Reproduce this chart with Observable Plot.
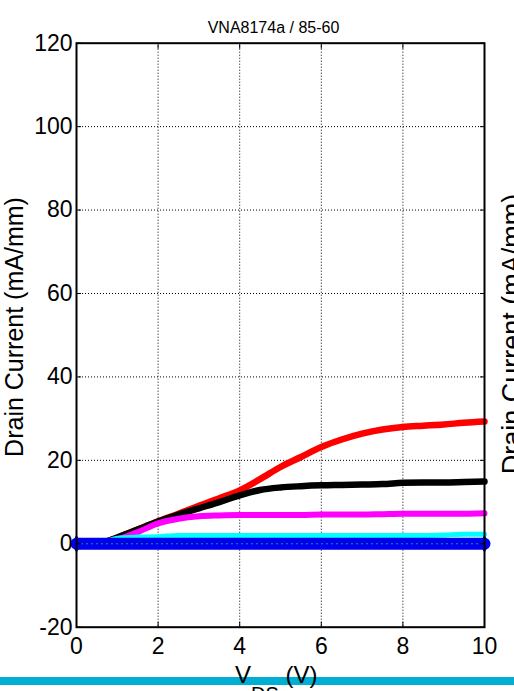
<!DOCTYPE html>
<html>
<head>
<meta charset="utf-8">
<script src="https://cdn.jsdelivr.net/npm/d3@7"></script>
<script src="https://cdn.jsdelivr.net/npm/@observablehq/plot@0.6"></script>
<style>
  html, body { margin: 0; padding: 0; background: white; }
  svg { display: block; }
</style>
</head>
<body>
<div id="chart"></div>
<script>
const title = "VNA8174a / 85-60";
const yLabel = "Drain Current (mA/mm)";
const xTicks = [0, 2, 4, 6, 8, 10];
const yTicks = [-20, 0, 20, 40, 60, 80, 100, 120];
const xGrid = [2, 4, 6, 8];
const yGrid = [0, 20, 40, 60, 80, 100];

const vds     = [0, 0.5, 0.7, 1.0, 1.5, 2.0, 2.5, 3.0, 3.5, 4.0, 4.5, 5.0, 5.5, 6.0, 6.5, 7.0, 7.5, 8.0, 8.5, 9.0, 9.5, 10];
const red     = [0, 0, 0.4, 1.5, 3.4, 5.4, 7.2, 9.1, 10.9, 12.8, 15.5, 18.4, 20.8, 23.2, 25.0, 26.4, 27.4, 28.0, 28.3, 28.6, 29.0, 29.3];
const black   = [0, 0, 0.4, 1.5, 3.4, 5.3, 7.0, 8.5, 10.0, 11.6, 12.9, 13.5, 13.8, 14.0, 14.1, 14.2, 14.3, 14.6, 14.7, 14.7, 14.8, 14.9];
const magenta = [0, 0, 0.3, 1.0, 2.8, 4.9, 6.0, 6.6, 6.8, 6.9, 6.9, 6.9, 6.9, 7.0, 7.0, 7.0, 7.1, 7.2, 7.2, 7.2, 7.2, 7.3];
const cyan    = [0, 0, 0.5, 1.3, 1.6, 1.7, 2.0, 2.0, 2.0, 2.0, 2.0, 2.0, 2.0, 2.0, 2.0, 2.0, 2.0, 2.0, 2.0, 2.1, 2.3, 2.3];
const blue    = [0, 0, 0, 0, 0, 0, 0, 0, 0, 0, 0, 0, 0, 0, 0, 0, 0, 0, 0, 0, 0, 0];

const series = [
  {name: "red", color: "#ff0000", values: red, width: 6.5},
  {name: "black", color: "#000000", values: black, width: 6.5},
  {name: "magenta", color: "#ff00ff", values: magenta, width: 6},
  {name: "cyan", color: "#00ffff", values: cyan, width: 5}
];

const lineMarks = series.map(s =>
  Plot.line(vds.map((v, i) => ({x: v, y: s.values[i]})), {
    x: "x", y: "y", stroke: s.color, strokeWidth: s.width,
    strokeLinecap: "round", strokeLinejoin: "round", curve: "monotone-x"
  })
);
const blueData = vds.map((v, i) => ({x: v, y: blue[i]}));
const blueEnds = [blueData[0], blueData[blueData.length - 1]];

const fmt = d => String(d);

const chart = Plot.plot({
  width: 514,
  height: 691,
  marginLeft: 76,
  marginRight: 30,
  marginTop: 42.7,
  marginBottom: 64.3,
  style: {fontFamily: "'Liberation Sans', Arial, sans-serif", background: "white", color: "black"},
  x: {domain: [0, 10], label: null},
  y: {domain: [-20, 120], label: null},
  marks: [
    Plot.gridX(xGrid, {stroke: "black", strokeOpacity: 1, strokeWidth: 1, strokeDasharray: "1,2"}),
    Plot.gridY(yGrid, {stroke: "black", strokeOpacity: 1, strokeWidth: 1, strokeDasharray: "1,2"}),
    ...lineMarks,
    Plot.line(blueData, {x: "x", y: "y", stroke: "#0000f0", strokeWidth: 12}),
    Plot.line(blueData, {x: "x", y: "y", stroke: "#22aa44", strokeWidth: 1, strokeDasharray: "1,4"}),
    Plot.dot(blueEnds, {x: "x", y: "y", symbol: "diamond", r: 4.5, stroke: "#0000f0", fill: "#0000f0", strokeWidth: 1.5}),
    Plot.frame({stroke: "black", strokeWidth: 2}),
    Plot.axisX(xTicks, {anchor: "bottom", tickSize: -5, tickPadding: 15, fontSize: 23, label: null, tickFormat: fmt}),
    Plot.axisX(xTicks, {anchor: "top", tickSize: -5, tickFormat: () => "", label: null}),
    Plot.axisY(yTicks, {anchor: "left", tickSize: -5, tickPadding: 9, fontSize: 23, label: null, tickFormat: fmt}),
    Plot.axisY(yTicks, {anchor: "right", tickSize: -5, tickFormat: () => "", label: null})
  ]
});

document.getElementById("chart").appendChild(chart);

const svg = d3.select(chart);
const font = "'Liberation Sans', Arial, sans-serif";

svg.append("text")
  .attr("x", 273.5).attr("y", 33)
  .attr("text-anchor", "middle")
  .attr("font-family", font).attr("font-size", 16)
  .attr("fill", "black")
  .text(title);

svg.append("text")
  .attr("transform", "translate(23,327) rotate(-90)")
  .attr("text-anchor", "middle")
  .attr("font-family", font).attr("font-size", 25)
  .attr("fill", "black")
  .text(yLabel);

// cut-off label of the neighbouring panel
svg.append("text")
  .attr("transform", "translate(521,334) rotate(-90)")
  .attr("text-anchor", "middle")
  .attr("font-family", font).attr("font-size", 27)
  .attr("fill", "black")
  .text(yLabel);

svg.append("rect")
  .attr("x", 0).attr("y", 677).attr("width", 514).attr("height", 8)
  .attr("fill", "#00aed4");

const xl = svg.append("text")
  .attr("x", 235).attr("y", 683)
  .attr("text-anchor", "start")
  .attr("font-family", font).attr("font-size", 24)
  .attr("fill", "black");
xl.append("tspan").text("V");
xl.append("tspan").attr("font-size", 20).attr("dy", 18).text("DS");
xl.append("tspan").attr("dy", -18).text(" (V)");
</script>
</body>
</html>
